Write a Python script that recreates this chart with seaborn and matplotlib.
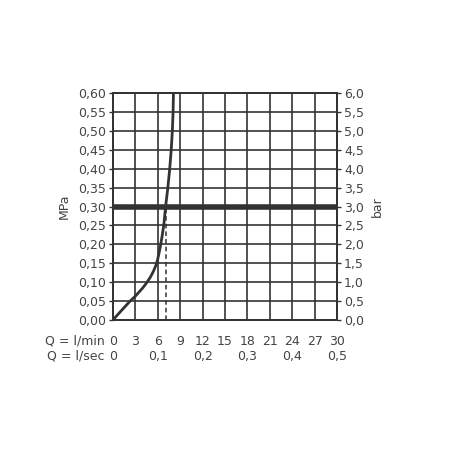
import matplotlib
matplotlib.use('Agg')
import matplotlib.pyplot as plt
import seaborn as sns
import pandas as pd

sns.set_style('white')
plt.rcParams['font.family'] = ['DejaVu Sans']

# flow curve (l/min vs MPa)
flow_lpm = [0, 1.0, 2.3, 3.0, 3.5, 4.0, 4.5, 5.0, 5.4, 5.7, 5.95, 6.15, 6.35, 6.55, 6.8, 7.05, 7.35, 7.6, 7.8, 7.95, 8.05, 8.1]
press_mpa = [0, 0.022, 0.05, 0.063, 0.074, 0.085, 0.098, 0.113, 0.128, 0.142, 0.157, 0.175, 0.195, 0.218, 0.25, 0.30, 0.35, 0.40, 0.45, 0.50, 0.55, 0.60]
ref_pressure = 0.30
ref_flow = 7.1

lpm_ticks = [0, 3, 6, 9, 12, 15, 18, 21, 24, 27, 30]
lps_ticks = [0, 0.1, 0.2, 0.3, 0.4, 0.5]
mpa_ticks = [i * 0.05 for i in range(13)]
bar_ticks = [i * 0.5 for i in range(13)]

dark = '#333333'
txt = '#444444'
fs = 9

df = pd.DataFrame({'q': flow_lpm, 'p': press_mpa})

fig = plt.figure(figsize=(4.5, 4.5), dpi=100)
ax = fig.add_axes([0.251, 0.289, 0.498, 0.504])

for x in lpm_ticks:
    ax.axvline(x, color=dark, lw=1.2, zorder=1)
for y in mpa_ticks:
    ax.axhline(y, color=dark, lw=1.2, zorder=1)

ax.axhline(ref_pressure, color=dark, lw=4, zorder=3)
ax.plot([ref_flow, ref_flow], [0, ref_pressure], color=dark, lw=1.1, ls=(0, (3, 2)), zorder=2)
sns.lineplot(data=df, x='q', y='p', ax=ax, color=dark, lw=2, zorder=4, sort=False)

ax.set_xlim(0, 30)
ax.set_ylim(0, 0.6)
for s in ax.spines.values():
    s.set_color(dark)
    s.set_linewidth(1.3)
ax.set_xticks(lpm_ticks)
ax.set_xticklabels([])
ax.set_yticks(mpa_ticks)
ax.set_yticklabels([f'{v:.2f}'.replace('.', ',') for v in mpa_ticks])
ax.tick_params(axis='both', direction='out', length=3, width=1, color=dark,
               labelsize=fs, labelcolor=txt, pad=2)
ax.set_xlabel('')
ax.set_ylabel('MPa', fontsize=fs, color=txt, labelpad=5)

ax2 = ax.twinx()
ax2.set_ylim(0, 6)
ax2.set_yticks(bar_ticks)
ax2.set_yticklabels([f'{v:.1f}'.replace('.', ',') for v in bar_ticks])
ax2.tick_params(axis='y', direction='out', length=3, width=1, color=dark,
                labelsize=fs, labelcolor=txt, pad=2)
for s in ax2.spines.values():
    s.set_color(dark)
    s.set_linewidth(1.3)
ax2.set_ylabel('bar', fontsize=fs, color=txt, rotation=90, labelpad=5)

# bottom scales
tr = ax.get_xaxis_transform()
for v in lpm_ticks:
    ax.text(v, -0.093, str(v), transform=tr, ha='center', va='center', fontsize=fs, color=txt)
for v in lps_ticks:
    ax.text(v * 60, -0.16, f'{v:g}'.replace('.', ','), transform=tr, ha='center', va='center', fontsize=fs, color=txt)
ax.text(-1.1, -0.093, 'Q = l/min', transform=tr, ha='right', va='center', fontsize=fs, color=txt)
ax.text(-1.1, -0.16, 'Q = l/sec', transform=tr, ha='right', va='center', fontsize=fs, color=txt)

fig.savefig('out.png', dpi=100)
